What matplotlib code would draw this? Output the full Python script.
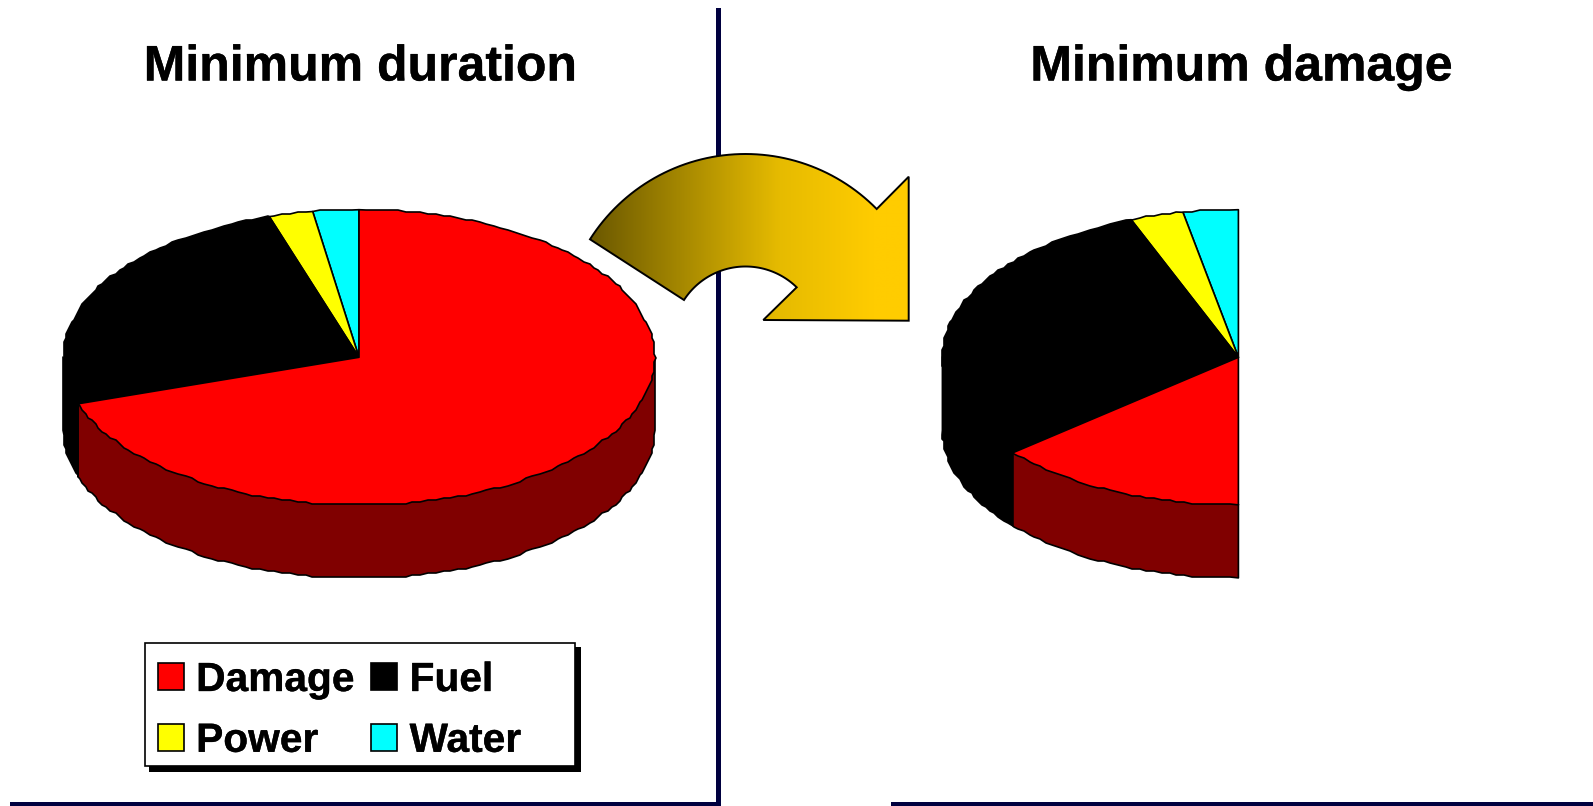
import numpy as np
import matplotlib
matplotlib.use("Agg")
import matplotlib.pyplot as plt
import matplotlib.patheffects as pe
from matplotlib.patches import Polygon, Rectangle
from matplotlib.colors import LinearSegmentedColormap

plt.rcParams['font.family'] = ['Liberation Sans', 'DejaVu Sans']

# Data: percentage of a full turn, counter-clockwise from 12 o'clock
categories = ["Water", "Power", "Fuel", "Damage"]
min_duration = [2.5, 2.4, 25.2, 69.9]
min_damage = [3.0, 2.9, 30.3, 13.8]      # the reference shows only this half of the pie
top_colors = {"Water": "#00FFFF", "Power": "#FFFF00", "Fuel": "#000000", "Damage": "#FF0000"}
side_colors = {"Water": "#008080", "Power": "#808000", "Fuel": "#000000", "Damage": "#800000"}
titles = ["Minimum duration", "Minimum damage"]
legend_order = ["Damage", "Power", "Fuel", "Water"]

NAVY = "#00003F"
W, H = 1593, 806
fig = plt.figure(figsize=(W / 100, H / 100), dpi=100, facecolor="white")
ax = fig.add_axes([0, 0, 1, 1])
ax.set_xlim(0, W)
ax.set_ylim(H, 0)
ax.axis("off")
bold_fx = [pe.withStroke(linewidth=0.25, foreground="black")]

# Frame lines
for x, y, w, h in [(716, 8, 5, 798), (10, 802, 711, 4), (891, 802, 702, 4)]:
    ax.add_patch(Rectangle((x, y), w, h, fc=NAVY, ec="none", zorder=1))


def rim(cx, cy, rx, ry, t0, t1, grid=2.0, step=1.5):
    # shared angle grid, so that top face and side wall follow the same outline
    inner_t = np.arange(np.ceil(t0 / step + 1e-6), np.floor(t1 / step - 1e-6) + 1) * step
    ti = np.radians(inner_t)
    x = np.round((cx - rx * np.sin(ti)) / grid) * grid
    y = np.round((cy - ry * np.cos(ti)) / grid) * grid
    ends = np.radians([t0, t1])
    ex = cx - rx * np.sin(ends)
    ey = cy - ry * np.cos(ends)
    return np.column_stack([np.r_[ex[0], x, ex[1]], np.r_[ey[0], y, ey[1]]])


def pie3d(values, cx, cy=357.3, rx=296, ry=147.6, depth=73):
    edges = np.concatenate([[0], np.cumsum(values)]) * 3.6
    # side walls first: filled as a fan from the centre, then outlined
    for name, t0, t1 in zip(categories, edges[:-1], edges[1:]):
        a, b = max(t0, 90), min(t1, 270)
        if b > a:
            arc = rim(cx, cy, rx, ry, a, b)
            low = arc + [0, depth]
            fan = np.vstack([[cx, cy], arc[0], low, arc[-1]])
            ax.add_patch(Polygon(fan, closed=True, fc=side_colors[name], ec="none", zorder=2))
            ax.plot(*np.vstack([arc[0], low, arc[-1]]).T, color="black", lw=1.2, zorder=2.5)
    # top face
    for name, t0, t1 in zip(categories, edges[:-1], edges[1:]):
        arc = rim(cx, cy, rx, ry, t0, t1)
        ax.add_patch(Polygon(np.vstack([[cx, cy], arc]), closed=True, fc=top_colors[name],
                             ec="black", lw=1.2, zorder=3, joinstyle="round"))


pie3d(min_duration, 359)
pie3d(min_damage, 1238.4)

for tx, title in zip([360.5, 1241.5], titles):
    ax.text(tx, 80.5, title, ha="center", va="baseline", fontsize=36, fontweight="bold",
            color="black", path_effects=bold_fx)


# Curved gradient arrow
def circle_arc(p1, p2, p3, n=60):
    (ax1, ay1), (bx, by), (cx, cy) = p1, p2, p3
    d = 2 * (ax1 * (by - cy) + bx * (cy - ay1) + cx * (ay1 - by))
    ux = ((ax1**2 + ay1**2) * (by - cy) + (bx**2 + by**2) * (cy - ay1) + (cx**2 + cy**2) * (ay1 - by)) / d
    uy = ((ax1**2 + ay1**2) * (cx - bx) + (bx**2 + by**2) * (ax1 - cx) + (cx**2 + cy**2) * (bx - ax1)) / d
    r = np.hypot(ax1 - ux, ay1 - uy)
    a0 = np.arctan2(ay1 - uy, ax1 - ux)
    a1 = np.arctan2(cy - uy, cx - ux)
    if a1 < a0:
        a1 += 2 * np.pi
    t = np.linspace(a0, a1, n)
    return np.column_stack([ux + r * np.cos(t), uy + r * np.sin(t)])


outer = circle_arc((590, 239.3), (745, 154), (876.7, 209))
inner = circle_arc((684, 300), (745, 266.5), (796.7, 287.3))
verts = np.vstack([outer, [[908.7, 176.7], [908.7, 320.7], [763.3, 320]], inner[::-1]])
arrow = Polygon(verts, closed=True, fc="none", ec="black", lw=1.4, zorder=5, joinstyle="miter")
ax.add_patch(arrow)
cmap = LinearSegmentedColormap.from_list("arrow", ["#6B5800", "#A88A00", "#E6BB00", "#FFCC00"])
grad = np.clip(np.linspace(0, 1.12, 320), 0, 1)[None, :]
im = ax.imshow(grad, extent=(590, 908.7, 320.7, 154), cmap=cmap, vmin=0, vmax=1,
               aspect="auto", zorder=4, interpolation="bilinear")
im.set_clip_path(Polygon(verts, closed=True, transform=ax.transData))
ax.set_xlim(0, W)
ax.set_ylim(H, 0)

# Legend frame and shadow
ax.add_patch(Rectangle((149, 647), 431.7, 124.7, fc="black", ec="none", zorder=6))
ax.add_patch(Rectangle((144.7, 642.7), 430.6, 123.3, fc="white", ec="black", lw=1.2, zorder=7))
handles = [Rectangle((0, 0), 1, 1, fc=top_colors[n], ec="black", lw=1.2) for n in legend_order]
leg = ax.legend(handles, legend_order, ncols=2, loc="upper left", bbox_to_anchor=(157.5, 661),
                bbox_transform=ax.transData, frameon=False, borderaxespad=0, borderpad=0,
                prop={"weight": "bold", "size": 29.3},
                handlelength=0.64, handleheight=0.64, handletextpad=0.31,
                columnspacing=0.40, labelspacing=0.56)
leg.set_zorder(8)
for label in leg.get_texts():
    label.set_path_effects(bold_fx)

fig.savefig("out.png", dpi=100, facecolor="white")
